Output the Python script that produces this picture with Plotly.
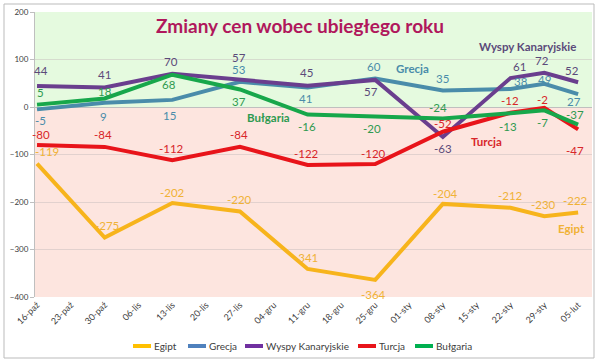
import plotly.graph_objects as go

categories = ["16-paź", "23-paź", "30-paź", "06-lis", "13-lis", "20-lis", "27-lis", "04-gru",
              "11-gru", "18-gru", "25-gru", "01-sty", "08-sty", "15-sty", "22-sty", "29-sty", "05-lut"]
N = None
egipt = [-119, N, -275, N, -202, N, -220, N, -341, N, -364, N, -204, N, -212, -230, -222]
grecja = [-5, N, 9, N, 15, N, 53, N, 41, N, 60, N, 35, N, 38, 49, 27]
wyspy = [44, N, 41, N, 70, N, 57, N, 45, N, 57, N, -63, N, 61, 72, 52]
turcja = [-80, N, -84, N, -112, N, -84, N, -122, N, -120, N, -52, N, -12, -2, -47]
bulgaria = [5, N, 18, N, 68, N, 37, N, -16, N, -20, N, -24, N, -13, -7, -37]

# label pixel offsets (style only), one per existing point
series = [
    dict(name="Egipt", vals=egipt, lc="#F7B41C", tc="#F0B236", legc="#FFC000",
         ys=[12, 12, 10, 12, 11, -15, 10, 12, 12, 12],
         xs=[10, 2, 0, 0, -2, -2, 3, 0, -1, -3],
         lbl=("Egipt", 15.8, -255)),
    dict(name="Grecja", vals=grecja, lc="#4A8CAA", tc="#4A8CAA", legc="#4F81BD",
         ys=[-11, -14, -16, 12, -11, 12, 12, 7, 4, -7],
         xs=[3, -1, -3, -1, -2, -1, 0, 10, 0, -4],
         lbl=("Grecja", 11.1, 82)),
    dict(name="Wyspy Kanaryjskie", vals=wyspy, lc="#6A3E8E", tc="#5B4A7A", legc="#7030A0",
         ys=[16, 13, 12, 22, 13, -12, -12, 12, 12, 12],
         xs=[4, 0, -1, -1, -1, -4, 0, 9, -2, -6],
         lbl=("Wyspy Kanaryjskie", 14.5, 128)),
    dict(name="Turcja", vals=turcja, lc="#E8141A", tc="#D8262A", legc="#E8141A",
         ys=[11, 12, 12, 12, 11, 11, 8, 12, 8, -21],
         xs=[4, -2, -1, -1, -1, -2, 0, -1, -2, -3],
         lbl=("Turcja", 13.3, -72)),
    dict(name="Bułgaria", vals=bulgaria, lc="#17A74B", tc="#2E9A50", legc="#00B050",
         ys=[12, 7, -10, -12, -12, -12, 11, -13, -12, 10],
         xs=[3, 0, -3, -1, -1, -3, -5, -3, -2, -3],
         lbl=("Bułgaria", 6.83, -23)),
]

# manual legend layout (paper coords of swatch start; style only)
PL, PW, PT, PH = 35, 557, 12, 285
def px2x(p):
    return (p - PL) / PW
def py2y(p):
    return (PT + PH - p) / PH
legend_x = [133, 188, 245, 358, 415]
legend_y = 346

fig = go.Figure()
annotations = []
shapes = [
    dict(type="rect", xref="paper", yref="y", x0=0, x1=1, y0=0, y1=200,
         fillcolor="#E5FADF", line_width=0, layer="below"),
    dict(type="rect", xref="paper", yref="y", x0=0, x1=1, y0=-400, y1=0,
         fillcolor="#FDE5DF", line_width=0, layer="below"),
    dict(type="rect", xref="paper", yref="paper", x0=px2x(4), x1=px2x(594),
         y0=py2y(358), y1=py2y(4),
         line=dict(color="#BBBBBB", width=1), fillcolor="rgba(0,0,0,0)", layer="below"),
]

for s, lxp in zip(series, legend_x):
    fig.add_trace(go.Scatter(
        x=categories, y=s["vals"], mode="lines", name=s["name"],
        line=dict(color=s["lc"], width=4), connectgaps=True, showlegend=False,
    ))
    idx = [i for i, v in enumerate(s["vals"]) if v is not None]
    for k, i in enumerate(idx):
        annotations.append(dict(
            x=i, y=s["vals"][i], xref="x", yref="y", text=str(s["vals"][i]),
            showarrow=False, yshift=s["ys"][k], xshift=s["xs"][k],
            font=dict(size=11.5, color=s["tc"], family="Lato"),
        ))
    t, lx, ly = s["lbl"]
    annotations.append(dict(
        x=lx, y=ly, xref="x", yref="y", text="<b>" + t + "</b>", showarrow=False,
        font=dict(size=11.5, color=s["tc"], family="Lato"),
    ))
    # legend entry
    shapes.append(dict(type="line", xref="paper", yref="paper",
                       x0=px2x(lxp), x1=px2x(lxp + 18), y0=py2y(legend_y), y1=py2y(legend_y),
                       line=dict(color=s["legc"], width=4)))
    annotations.append(dict(
        x=px2x(lxp + 19), y=py2y(legend_y), xref="paper", yref="paper", text=s["name"],
        showarrow=False, xanchor="left", yanchor="middle",
        font=dict(size=10, color="#404040", family="Lato")))

annotations.append(dict(
    text="<b>Zmiany cen wobec ubiegłego roku</b>", xref="paper", yref="paper",
    x=px2x(300), y=py2y(25), showarrow=False, font=dict(size=19, color="#B0175C", family="Lato"),
    xanchor="center", yanchor="middle"))

fig.update_layout(
    width=600, height=362,
    margin=dict(l=35, r=8, t=12, b=65),
    paper_bgcolor="white", plot_bgcolor="rgba(0,0,0,0)",
    shapes=shapes, annotations=annotations, showlegend=False,
    font=dict(family="Lato", color="#404040"),
    xaxis=dict(type="category", categoryorder="array", categoryarray=categories,
               range=[-0.06, 16.41], tickangle=-45, tickfont=dict(size=9, color="#404040"),
               showgrid=False, showline=False, ticks="", zeroline=False),
    yaxis=dict(range=[-400, 200], dtick=100, tickfont=dict(size=8, color="#404040"),
               showgrid=True, gridcolor="rgba(200,190,190,0.5)", gridwidth=1,
               zeroline=True, zerolinecolor="#BFBFBF", zerolinewidth=1,
               showline=True, linecolor="#BFBFBF", ticks="outside", ticklen=4,
               tickcolor="#BFBFBF"),
)

fig.write_html("out.html", config={"displayModeBar": False},
               post_script="document.body.style.margin='0';")
